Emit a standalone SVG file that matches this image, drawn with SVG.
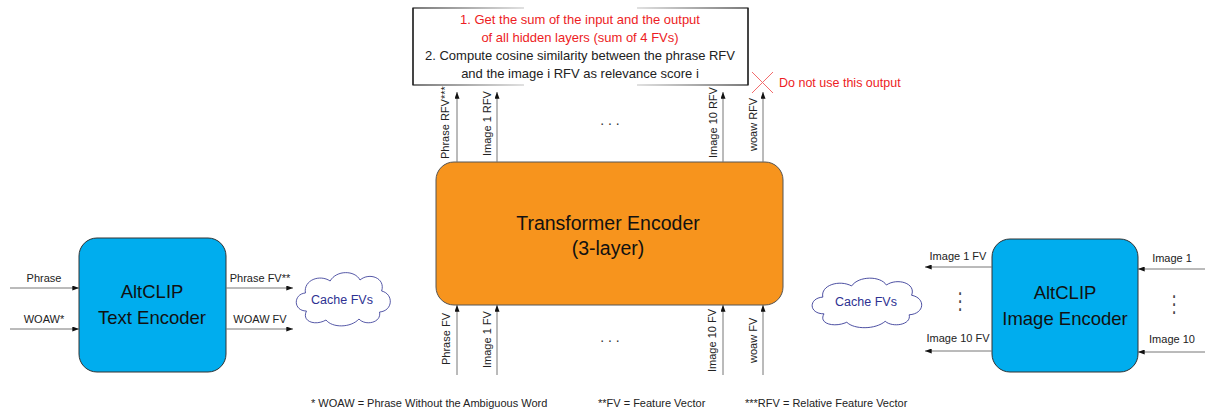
<svg xmlns="http://www.w3.org/2000/svg" width="1205" height="414" viewBox="0 0 1205 414">
<style>
text{font-family:"Liberation Sans",Arial,sans-serif;fill:#222}
.lbl{font-size:11px}
.note{font-size:13px;text-anchor:middle}
.red{fill:#ED1C24}
.big{font-size:18.5px;text-anchor:middle;fill:#111}
.tr{font-size:19.5px;text-anchor:middle;fill:#111}
.ln{stroke:#777;stroke-width:1;fill:none}
.enc{fill:#00ADEE;stroke:#333;stroke-width:1}
.cloud{fill:#fff;stroke:#2E3192;stroke-width:0.8}
.ctext{font-size:12.5px;fill:#2E3192;text-anchor:middle}
.foot{font-size:11px;fill:#222}
.mid{text-anchor:middle}
.dots{font-size:14px;text-anchor:middle;fill:#333}
.vdots{font-family:"DejaVu Sans",sans-serif;font-size:16px;text-anchor:middle;fill:#444}
</style>
<defs>
<marker id="ah" viewBox="0 0 8 6" refX="8" refY="3" markerWidth="7" markerHeight="5" orient="auto" markerUnits="userSpaceOnUse">
<path d="M0,0 L8,3 L0,6 Z" fill="#111"/>
</marker>
<linearGradient id="bx" x1="0" y1="0" x2="1" y2="0">
<stop offset="0" stop-color="#222"/>
<stop offset="0.33" stop-color="#ccc"/>
<stop offset="0.331" stop-color="#fff" stop-opacity="0"/>
<stop offset="0.669" stop-color="#fff" stop-opacity="0"/>
<stop offset="0.67" stop-color="#ccc"/>
<stop offset="1" stop-color="#222"/>
</linearGradient>
<path id="cl" d="M15,45 C2,45 2,28 14,27 C12,14 28,8 38,15 C44,4 62,4 67,14 C76,6 92,12 88,25 C100,28 99,45 86,46 C88,57 72,60 66,53 C58,62 40,62 34,54 C24,60 10,56 15,45 Z"/>
</defs>

<g id="note-box">
<rect x="413" y="8" width="335" height="77" fill="#fff" stroke="url(#bx)" stroke-width="1.2"/>
<line x1="413" y1="8" x2="413" y2="85" stroke="#222" stroke-width="1.2"/>
<line x1="748" y1="8" x2="748" y2="85" stroke="#222" stroke-width="1.2"/>
<text class="note red" x="580" y="24">1. Get the sum of the input and the output</text>
<text class="note red" x="580" y="42">of all hidden layers (sum of 4 FVs)</text>
<text class="note" x="580" y="60">2. Compute cosine similarity between the phrase RFV</text>
<text class="note" x="580" y="78">and the image i RFV as relevance score i</text>
</g>

<g id="do-not-use">
<line x1="752" y1="72" x2="773" y2="93" stroke="#F26C6C" stroke-width="1"/>
<line x1="773" y1="72" x2="752" y2="93" stroke="#F26C6C" stroke-width="1"/>
<text x="779" y="87" font-size="12.5" class="red">Do not use this output</text>
</g>

<g id="transformer">
<rect x="436" y="162" width="347" height="143" rx="18" fill="#F7941D" stroke="#555" stroke-width="1"/>
<text class="tr" x="608" y="230">Transformer Encoder</text>
<text class="tr" x="608" y="255">(3-layer)</text>
</g>

<g id="text-encoder">
<rect class="enc" x="79" y="238" width="147" height="134" rx="18"/>
<text class="big" x="152" y="298">AltCLIP</text>
<text class="big" x="152" y="324">Text Encoder</text>
</g>

<g id="image-encoder">
<rect class="enc" x="992" y="239" width="146" height="133" rx="18"/>
<text class="big" x="1065" y="299">AltCLIP</text>
<text class="big" x="1065" y="325">Image Encoder</text>
</g>

<g id="cache-left">
<use href="#cl" class="cloud" transform="translate(291,266) scale(1.03,1.0)"/>
<text class="ctext" x="342" y="304">Cache FVs</text>
</g>

<g id="cache-right">
<use href="#cl" class="cloud" transform="translate(806,272) scale(1.2,0.93)"/>
<text class="ctext" x="866" y="306">Cache FVs</text>
</g>

<g id="connectors">
<line class="ln" x1="10" y1="288" x2="79" y2="288" marker-end="url(#ah)"/>
<line class="ln" x1="10" y1="329" x2="79" y2="329" marker-end="url(#ah)"/>
<text class="lbl mid" x="44" y="282">Phrase</text>
<text class="lbl mid" x="44" y="323">WOAW*</text>
<line class="ln" x1="226" y1="288" x2="293" y2="288" marker-end="url(#ah)"/>
<line class="ln" x1="226" y1="329" x2="293" y2="329" marker-end="url(#ah)"/>
<text class="lbl mid" x="260" y="282">Phrase FV**</text>
<text class="lbl mid" x="260" y="323">WOAW FV</text>
<line class="ln" x1="1205" y1="269" x2="1138" y2="269" marker-end="url(#ah)"/>
<line class="ln" x1="1205" y1="352" x2="1138" y2="352" marker-end="url(#ah)"/>
<text class="lbl mid" x="1172" y="262">Image 1</text>
<text class="lbl mid" x="1172" y="343">Image 10</text>
<text class="vdots" transform="translate(1174,312) scale(1,1.45)">⋮</text>
<line class="ln" x1="992" y1="267" x2="925" y2="267" marker-end="url(#ah)"/>
<line class="ln" x1="992" y1="351" x2="925" y2="351" marker-end="url(#ah)"/>
<text class="lbl mid" x="958" y="260">Image 1 FV</text>
<text class="lbl mid" x="958" y="342">Image 10 FV</text>
<text class="vdots" transform="translate(960,309) scale(1,1.45)">⋮</text>
<line class="ln" x1="457" y1="162" x2="457" y2="92" marker-end="url(#ah)"/>
<line class="ln" x1="497" y1="162" x2="497" y2="92" marker-end="url(#ah)"/>
<line class="ln" x1="723" y1="162" x2="723" y2="92" marker-end="url(#ah)"/>
<line class="ln" x1="763" y1="162" x2="763" y2="92" marker-end="url(#ah)"/>
<text class="lbl" transform="translate(449,159) rotate(-90)">Phrase RFV***</text>
<text class="lbl" transform="translate(491,156) rotate(-90)">Image 1 RFV</text>
<text class="lbl" transform="translate(717,158) rotate(-90)">Image 10 RFV</text>
<text class="lbl" transform="translate(757,151) rotate(-90)">woaw RFV</text>
<text class="dots" x="610" y="125">. . .</text>
<line class="ln" x1="457" y1="375" x2="457" y2="305" marker-end="url(#ah)"/>
<line class="ln" x1="497" y1="375" x2="497" y2="305" marker-end="url(#ah)"/>
<line class="ln" x1="723" y1="375" x2="723" y2="305" marker-end="url(#ah)"/>
<line class="ln" x1="763" y1="375" x2="763" y2="305" marker-end="url(#ah)"/>
<text class="lbl" transform="translate(450,365) rotate(-90)">Phrase FV</text>
<text class="lbl" transform="translate(491,368) rotate(-90)">Image 1 FV</text>
<text class="lbl" transform="translate(716,372) rotate(-90)">Image 10 FV</text>
<text class="lbl" transform="translate(757,363) rotate(-90)">woaw FV</text>
<text class="dots" x="610" y="342">. . .</text>
</g>

<g id="footnotes">
<text class="foot" x="311" y="407">* WOAW = Phrase Without the Ambiguous Word</text>
<text class="foot" x="598" y="407">**FV = Feature Vector</text>
<text class="foot" x="745" y="407">***RFV = Relative Feature Vector</text>
</g>
</svg>
